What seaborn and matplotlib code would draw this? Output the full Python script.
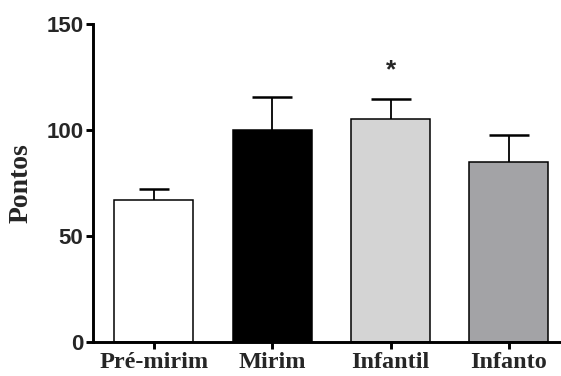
import matplotlib
matplotlib.use("Agg")
import matplotlib.pyplot as plt
import seaborn as sns
import pandas as pd

categories = ["Pré-mirim", "Mirim", "Infantil", "Infanto"]
means = [67, 100, 105, 85]
errors = [5, 15.5, 9.5, 12.5]
bar_colors = ["#ffffff", "#000000", "#d4d4d4", "#a3a2a7"]
y_ticks = [0, 50, 100, 150]
y_label = "Pontos"
signif_label = "*"
signif_height = 128

sns.set_theme(style="ticks")
plt.rcParams["font.family"] = ["Liberation Sans", "DejaVu Sans"]

df = pd.DataFrame({"grupo": categories, "pontos": means})

fig = plt.figure(figsize=(5.61, 3.76), dpi=100)
ax = fig.add_axes([93 / 561, 34 / 376, 1 - 93 / 561, 318 / 376])

sns.barplot(data=df, x="grupo", y="pontos", hue="grupo", palette=bar_colors,
            order=categories, hue_order=categories, legend=False,
            edgecolor="black", linewidth=1.1, width=0.667, errorbar=None, ax=ax)

capsizes = [11, 14.5, 14.5, 14.5]
for i, (m, e) in enumerate(zip(means, errors)):
    _, caps, _ = ax.errorbar([i], [m], yerr=[[0], [e]], fmt="none", ecolor="black",
                             elinewidth=1.3, capsize=capsizes[i], capthick=1.8, zorder=1)
    if len(caps) == 2:
        caps[0].set_visible(False)

ax.text(2, signif_height, signif_label, ha="center", va="center",
        fontsize=19, fontweight="bold", family=["Liberation Sans", "DejaVu Sans"])

ax.set_xlim(-0.515, 3.44)
ax.set_ylim(0, 150)
ax.set_yticks(y_ticks)
ax.set_yticklabels([str(t) for t in y_ticks], fontsize=16, fontweight="bold",
                   family=["Liberation Sans", "DejaVu Sans"])
ax.set_xticks(range(len(categories)))
ax.set_xticklabels(categories, fontsize=17.5, fontweight="bold",
                   family=["Liberation Serif", "DejaVu Serif"])
ax.set_xlabel("")
ax.set_ylabel(y_label, fontsize=20, fontweight="bold",
              family=["Liberation Serif", "DejaVu Serif"], labelpad=9)

for s in ["top", "right"]:
    ax.spines[s].set_visible(False)
for s in ["left", "bottom"]:
    ax.spines[s].set_linewidth(2.1)
    ax.spines[s].set_color("black")
ax.tick_params(axis="both", direction="out", length=5, width=2.1, color="black")
ax.tick_params(axis="y", pad=2)
ax.tick_params(axis="x", pad=2)

fig.savefig("out.png", dpi=100)
